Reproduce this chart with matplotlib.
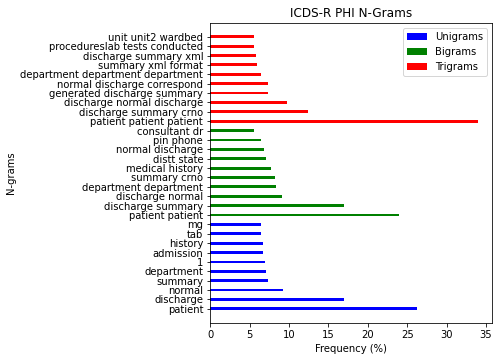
import matplotlib.pyplot as plt

# N-gram labels and frequencies (%)
unigrams = ['patient', 'discharge', 'normal', 'summary', 'department',
            '1', 'admission', 'history', 'tab', 'mg']
unigram_freq = [26.2, 17.0, 9.3, 7.4, 7.1, 6.9, 6.7, 6.7, 6.5, 6.4]

bigrams = ['patient patient', 'discharge summary', 'discharge normal',
           'department department', 'summary crno', 'medical history',
           'distt state', 'normal discharge', 'pin phone', 'consultant dr']
bigram_freq = [23.9, 17.0, 9.1, 8.3, 8.2, 7.7, 7.1, 6.8, 6.5, 5.6]

trigrams = ['patient patient patient', 'discharge summary crno',
            'discharge normal discharge', 'generated discharge summary',
            'normal discharge correspond', 'department department department',
            'summary xml format', 'discharge summary xml',
            'procedureslab tests conducted', 'unit unit2 wardbed']
trigram_freq = [34.05, 12.45, 9.8, 7.3, 7.3, 6.4, 5.9, 5.8, 5.6, 5.6]

fig, ax = plt.subplots(figsize=(7, 5), dpi=72)

labels = unigrams + bigrams + trigrams
pos = list(range(len(labels)))
n1, n2 = len(unigrams), len(bigrams)

ax.barh(pos[:n1], unigram_freq, height=0.3, color='blue', label='Unigrams')
ax.barh(pos[n1:n1 + n2], bigram_freq, height=0.3, color='green', label='Bigrams')
ax.barh(pos[n1 + n2:], trigram_freq, height=0.3, color='red', label='Trigrams')

ax.set_yticks(pos)
ax.set_yticklabels(labels, fontsize=10)
ax.tick_params(axis='x', labelsize=10)
ax.set_ylim(-1.5, len(labels) - 0.5 + 1.0)
ax.set_xlabel('Frequency (%)', fontsize=10)
ax.set_ylabel('N-grams', fontsize=10)
ax.set_title('ICDS-R PHI N-Grams', fontsize=12)
ax.legend(loc='upper right', fontsize=10)

plt.subplots_adjust(left=0.417, right=0.976, top=0.937, bottom=0.103)
plt.savefig('out.png')
plt.close()
